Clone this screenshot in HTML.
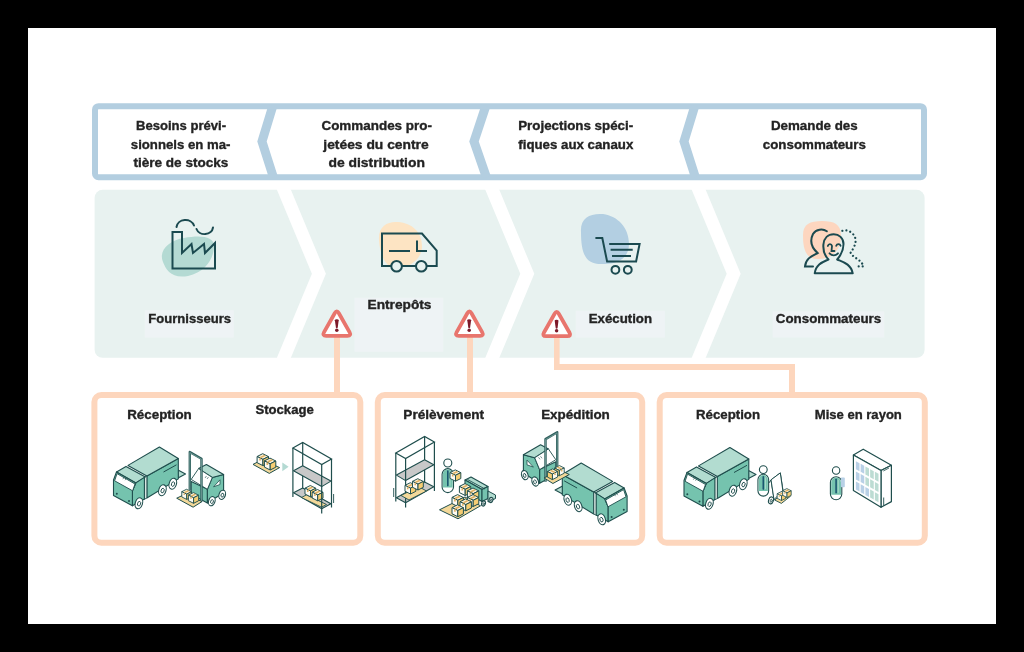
<!DOCTYPE html>
<html><head><meta charset="utf-8">
<style>
html,body{margin:0;padding:0;background:#000;width:1024px;height:652px;overflow:hidden}
svg{display:block;will-change:transform}
text{font-family:"Liberation Sans",sans-serif;font-weight:bold;font-size:13px;fill:#232323;stroke:#232323;stroke-width:0.35px}
</style></head>
<body>
<svg width="1024" height="652" viewBox="0 0 1024 652">
<rect x="0" y="0" width="1024" height="652" fill="#000"/>
<rect x="28" y="28" width="968" height="596" fill="#fff"/>

<!-- TOP BAND -->
<g fill="none" stroke="#b3cee0">
<rect x="95" y="106.2" width="829" height="71" rx="3.5" stroke-width="6"/>
<polyline points="272.8,106 262,141.5 273.3,177" stroke-width="9"/>
<polyline points="485.8,106 474,141.5 486.3,177" stroke-width="9"/>
<polyline points="694.8,106 684,141.5 695.3,177" stroke-width="9"/>
</g>
<g text-anchor="middle">
<text x="181" y="130.3" textLength="90" lengthAdjust="spacingAndGlyphs">Besoins prévi-</text>
<text x="180.6" y="148.6" textLength="99.6" lengthAdjust="spacingAndGlyphs">sionnels en ma-</text>
<text x="180.9" y="166.5" textLength="95" lengthAdjust="spacingAndGlyphs">tière de stocks</text>
<text x="376.7" y="130.3" textLength="110.5" lengthAdjust="spacingAndGlyphs">Commandes pro-</text>
<text x="376" y="148.6" textLength="105.4" lengthAdjust="spacingAndGlyphs">jetées du centre</text>
<text x="376.7" y="166.5" textLength="96.5" lengthAdjust="spacingAndGlyphs">de distribution</text>
<text x="575.7" y="130.3" textLength="115" lengthAdjust="spacingAndGlyphs">Projections spéci-</text>
<text x="575.8" y="148.6" textLength="115" lengthAdjust="spacingAndGlyphs">fiques aux canaux</text>
<text x="814.3" y="130.3" textLength="86.8" lengthAdjust="spacingAndGlyphs">Demande des</text>
<text x="814.3" y="148.6" textLength="103" lengthAdjust="spacingAndGlyphs">consommateurs</text>
</g>

<!-- MIDDLE BAND -->
<rect x="94.6" y="189.8" width="830" height="168" rx="8" fill="#e8f2f0"/>
<g fill="#fff">
<polygon points="276.17,188 290.17,188 325.90,273.8 290.17,359.6 276.17,359.6 311.90,273.8"/>
<polygon points="484.57,188 498.57,188 534.30,273.8 498.57,359.6 484.57,359.6 520.30,273.8"/>
<polygon points="690.97,188 704.97,188 740.70,273.8 704.97,359.6 690.97,359.6 726.70,273.8"/>
</g>
<g fill="#eef3f5">
<rect x="144.7" y="310.2" width="89.1" height="27.4"/>
<rect x="354.5" y="297.7" width="88.8" height="54.1"/>
<rect x="575.7" y="310.7" width="89.2" height="26.9"/>
<rect x="772.6" y="311.4" width="111.7" height="26.1"/>
</g>
<g text-anchor="middle">
<text x="189.7" y="322.6" textLength="82.7" lengthAdjust="spacingAndGlyphs">Fournisseurs</text>
<text x="399.5" y="309.3" textLength="63.9" lengthAdjust="spacingAndGlyphs">Entrepôts</text>
<text x="620.4" y="322.8" textLength="63.2" lengthAdjust="spacingAndGlyphs">Exécution</text>
<text x="828.5" y="322.9" textLength="105.4" lengthAdjust="spacingAndGlyphs">Consommateurs</text>
</g>

<!-- ICONS -->
<g id="icons">
<!-- factory -->
<path d="M163,262 C158,250 170,240 184,238 C200,235 214,236 214,246 C214,258 206,272 188,276 C172,279 166,270 163,262 Z" fill="#b4dad3"/>
<!-- truck blob -->
<path d="M379,240 C378,226 388,221 398,222 C412,223 422,232 422,246 C422,258 412,266 400,268 C386,270 380,256 379,240 Z" fill="#fde4c3"/>
<!-- cart blob -->
<path d="M581,232 C580,218 590,213 603,214 C618,216 629,228 629,244 C629,258 618,264 604,264 C588,265 581,258 581,232 Z" fill="#b3cfe2"/>
<!-- consumer blob -->
<path d="M803,235 C803,224 810,221 822,221 C834,221 841,224 841,236 C841,250 832,259 818,259 C806,259 803,250 803,235 Z" fill="#fdd6bf"/>
<g fill="none" stroke="#1b4a50" stroke-width="2" stroke-linejoin="miter" stroke-linecap="butt">
<path d="M172.5,268.5 V232 H182 V253 L191.5,244 L193,253 L204,244 L205,253 L215,243 V268.5 Z"/>
<path d="M176.5,227 A9,8 0 0 1 194,225.5" stroke-linecap="round"/>
<path d="M196.5,229 A8.5,7.5 0 0 0 213,227.5" stroke-linecap="round"/>
<path d="M382,266 V233.5 H422 L436.7,250.6 V266 Z"/>
<path d="M389,251 H410 M417,240.6 V251 H427"/>
<circle cx="396.6" cy="266.3" r="5.3" fill="#e8f2f0"/>
<circle cx="421.3" cy="266.3" r="5.3" fill="#e8f2f0"/>
<path d="M595.4,238 H602.3 L607.1,261.5 H636.1 L639.6,243.9 H609.2 M610.6,249.7 H632.7 M612,256 H631"/>
<circle cx="615.4" cy="269.8" r="3.9"/>
<circle cx="627.8" cy="269.8" r="3.9"/>
<path d="M826.8,231.3 C823,228.5 816,229 813,234 C810,240 811,247 817.6,253 C812,256 806,258 805,266.4 H813" stroke-linecap="round"/>
<path d="M828.5,259.5 C824,255 823,250 823.4,244.5 C824,238 828,234.2 833.7,234.2 C839,234.2 843.5,238 843.5,244 C843.5,250 841,255 837.2,259.5 C843,262 851,264 852.7,273.3 H814.7 C816,264 823,262 828.5,259.5 Z" fill="none" stroke-linejoin="round"/>
<path d="M827.8,246 C828.5,243.5 831.5,243.5 832,246 L831.5,251 H834.5" stroke-width="1.8" stroke-linecap="round"/>
<path d="M836.2,245.8 C837,243.5 840,243.5 840.6,245.8" stroke-width="1.8" stroke-linecap="round"/>
<path d="M829.5,253.3 C832,256 835.5,256 838,253.3" stroke-width="1.8" stroke-linecap="round"/>
<path d="M842.4,230.8 C848,229 854,233 855.4,238.5 C856.5,244 853,249 850.6,252.8 C853,258 861,259 863.6,266.4 H855" stroke-width="2.2" stroke-dasharray="0.01 4" stroke-linecap="round"/>
</g>
</g>

<!-- CONNECTORS -->
<g fill="#fdd6bd">
<rect x="334" y="336" width="6" height="58"/>
<rect x="467" y="336" width="6" height="58"/>
<rect x="554" y="336" width="5.6" height="34"/>
<rect x="554" y="364" width="241" height="6"/>
<rect x="789" y="364" width="6" height="30"/>
</g>
<g fill="#fff" stroke="#e8756d" stroke-width="3.8" stroke-linejoin="round">
<path d="M334.73,313.26 Q336.80,309.60 338.87,313.26 L349.53,332.14 Q351.60,335.80 347.40,335.80 L326.20,335.80 Q322.00,335.80 324.07,332.14 Z"/>
<path d="M467.33,313.26 Q469.40,309.60 471.47,313.26 L482.13,332.14 Q484.20,335.80 480.00,335.80 L458.80,335.80 Q454.60,335.80 456.67,332.14 Z"/>
<path d="M554.62,313.75 Q556.70,310.10 558.78,313.75 L569.42,332.45 Q571.50,336.10 567.30,336.10 L546.10,336.10 Q541.90,336.10 543.98,332.45 Z"/>
</g>
<g fill="#7d1a2a">
<path d="M334.90,320.20 Q334.90,319.20 336.80,319.20 Q338.70,319.20 338.70,320.20 L337.70,327.80 Q336.80,328.60 335.90,327.80 Z"/><circle cx="336.80" cy="330.30" r="1.75"/><path d="M467.30,320.20 Q467.30,319.20 469.20,319.20 Q471.10,319.20 471.10,320.20 L470.10,327.80 Q469.20,328.60 468.30,327.80 Z"/><circle cx="469.20" cy="330.30" r="1.75"/><path d="M554.70,320.70 Q554.70,319.70 556.60,319.70 Q558.50,319.70 558.50,320.70 L557.50,328.30 Q556.60,329.10 555.70,328.30 Z"/><circle cx="556.60" cy="330.80" r="1.75"/>
</g>

<!-- BOTTOM BOXES -->
<g fill="none" stroke="#fdd6bd" stroke-width="6">
<rect x="94.4" y="395" width="265.9" height="147.8" rx="7"/>
<rect x="377.8" y="395" width="264.4" height="147.8" rx="7"/>
<rect x="659.7" y="395" width="265.1" height="147.8" rx="7"/>
</g>
<g text-anchor="middle">
<text x="159.5" y="418.5" textLength="64.6" lengthAdjust="spacingAndGlyphs">Réception</text>
<text x="284.6" y="414.4" textLength="58.4" lengthAdjust="spacingAndGlyphs">Stockage</text>
<text x="443.7" y="418.8" textLength="80.7" lengthAdjust="spacingAndGlyphs">Prélèvement</text>
<text x="575.5" y="418.8" textLength="68.7" lengthAdjust="spacingAndGlyphs">Expédition</text>
<text x="728" y="418.8" textLength="64" lengthAdjust="spacingAndGlyphs">Réception</text>
<text x="858.3" y="418.8" textLength="87.1" lengthAdjust="spacingAndGlyphs">Mise en rayon</text>
</g>

<!-- ILLUSTRATIONS -->
<g id="illus">
<defs><g id="truck1"><polygon points="178.00,470.00 185.50,474.00 178.00,478.00" fill="#b2dcd0" stroke="#1f4e4d" stroke-width="1.1" stroke-linejoin="round" /><polygon points="146.90,476.00 178.30,458.50 178.30,478.90 146.90,498.00" fill="#75c3ae" stroke="#1f4e4d" stroke-width="1.1" stroke-linejoin="round" /><polygon points="128.00,465.40 159.40,447.00 178.30,458.50 146.90,476.00" fill="#b2dcd0" stroke="#1f4e4d" stroke-width="1.1" stroke-linejoin="round" /><path d="M163.5,472 L176.5,464.8" stroke="#1f4e4d" stroke-width="1"/><polygon points="143.80,477.50 146.90,476.00 146.90,498.00 143.80,499.50" fill="#d9e6e2" stroke="#1f4e4d" stroke-width="0.9" stroke-linejoin="round" /><polygon points="116.50,471.90 126.00,466.40 145.40,476.90 135.90,482.90" fill="#b2dcd0" stroke="#1f4e4d" stroke-width="1.1" stroke-linejoin="round" /><polygon points="135.90,482.90 144.40,477.40 144.40,498.90 132.40,505.80 132.40,490.90" fill="#75c3ae" stroke="#1f4e4d" stroke-width="1.1" stroke-linejoin="round" /><polygon points="116.50,471.90 135.90,482.90 132.40,490.90 132.40,505.80 113.50,495.40 113.50,480.00" fill="#75c3ae" stroke="#1f4e4d" stroke-width="1.1" stroke-linejoin="round" /><polygon points="117.00,473.60 135.00,484.00 132.60,490.80 114.60,480.80" fill="#fff" stroke="#1f4e4d" stroke-width="0.9" stroke-linejoin="round" /><circle cx="116.8" cy="493.7" r="1" fill="#1f4e4d"/><circle cx="129" cy="500.9" r="1" fill="#1f4e4d"/><path d="M122.8,479.2 l1.6,-2.2 M125,480.2 l1.6,-2.2" stroke="#1f4e4d" stroke-width="0.6"/><ellipse cx="138.9" cy="503.3" rx="3.6" ry="5.6" fill="#fff" stroke="#1f4e4d" stroke-width="1.1" transform="rotate(18 138.9 503.3)"/><ellipse cx="139.20000000000002" cy="503.6" rx="1.51" ry="2.35" fill="none" stroke="#1f4e4d" stroke-width="0.9" transform="rotate(18 138.9 503.3)"/><ellipse cx="162.4" cy="490.2" rx="3.6" ry="5.6" fill="#fff" stroke="#1f4e4d" stroke-width="1.1" transform="rotate(18 162.4 490.2)"/><ellipse cx="162.70000000000002" cy="490.5" rx="1.51" ry="2.35" fill="none" stroke="#1f4e4d" stroke-width="0.9" transform="rotate(18 162.4 490.2)"/><ellipse cx="172.8" cy="483.7" rx="3.6" ry="5.6" fill="#fff" stroke="#1f4e4d" stroke-width="1.1" transform="rotate(18 172.8 483.7)"/><ellipse cx="173.10000000000002" cy="484.0" rx="1.51" ry="2.35" fill="none" stroke="#1f4e4d" stroke-width="0.9" transform="rotate(18 172.8 483.7)"/></g><g id="fork1"><polygon points="191.20,481.40 207.40,489.30 207.40,503.00 191.20,494.20" fill="#75c3ae" stroke="#1f4e4d" stroke-width="1.1" stroke-linejoin="round" /><polygon points="207.40,489.30 212.30,477.50 223.60,474.50 223.60,492.70 207.40,503.00" fill="#75c3ae" stroke="#1f4e4d" stroke-width="1.1" stroke-linejoin="round" /><polygon points="198.60,468.60 206.40,464.50 223.60,474.50 212.30,477.50" fill="#b2dcd0" stroke="#1f4e4d" stroke-width="1.1" stroke-linejoin="round" /><polygon points="191.20,479.40 198.60,468.60 212.30,477.50 207.40,489.30" fill="#fff" stroke="#1f4e4d" stroke-width="0.9" stroke-linejoin="round" /><polygon points="213.60,486.80 220.00,479.80 220.00,484.50" fill="#fff" stroke="#1f4e4d" stroke-width="0.8" stroke-linejoin="round" /><path d="M205,478 l1.5,-2 M207,479 l1.5,-2" stroke="#1f4e4d" stroke-width="0.6"/><path d="M189.8,490.5 V452 L201.5,458.8 V501.5" fill="none" stroke="#2f5f5d" stroke-width="2.4" stroke-linejoin="round"/><path d="M189.8,490.5 V452.5 L201.5,459.2 V501.5" fill="none" stroke="#7fa9a3" stroke-width="0.7"/><ellipse cx="211.8" cy="501.2" rx="3.2" ry="4.7" fill="#fff" stroke="#1f4e4d" stroke-width="1.1" transform="rotate(18 211.8 501.2)"/><ellipse cx="212.10000000000002" cy="501.5" rx="1.34" ry="1.97" fill="none" stroke="#1f4e4d" stroke-width="0.9" transform="rotate(18 211.8 501.2)"/><ellipse cx="222.2" cy="494.8" rx="3.2" ry="4.7" fill="#fff" stroke="#1f4e4d" stroke-width="1.1" transform="rotate(18 222.2 494.8)"/><ellipse cx="222.5" cy="495.1" rx="1.34" ry="1.97" fill="none" stroke="#1f4e4d" stroke-width="0.9" transform="rotate(18 222.2 494.8)"/></g><g id="forkpal1"><polygon points="176.70,498.20 185.50,494.00 202.00,501.60 193.10,507.20" fill="#f3d899" stroke="#1f4e4d" stroke-width="1.0" stroke-linejoin="round" /><polygon points="181.77,491.67 186.70,494.13 191.46,491.75 186.53,489.29" fill="#fbf0d8" stroke="#1f4e4d" stroke-width="0.8800000000000001" stroke-linejoin="round" /><polygon points="181.77,496.94 186.70,499.40 186.70,494.13 181.77,491.67" fill="#fdfaf2" stroke="#1f4e4d" stroke-width="0.8800000000000001" stroke-linejoin="round" /><polygon points="186.70,499.40 191.46,497.02 191.46,491.75 186.70,494.13" fill="#f6cd73" stroke="#1f4e4d" stroke-width="0.8800000000000001" stroke-linejoin="round" /><path d="M184.47,492.60 L188.52,490.72 M184.23,493.40 V495.11" stroke="#dfb060" stroke-width="1.36" fill="none"/><polygon points="188.38,495.11 193.60,497.72 198.64,495.20 193.42,492.59" fill="#fbf0d8" stroke="#1f4e4d" stroke-width="0.9200000000000002" stroke-linejoin="round" /><polygon points="188.38,500.69 193.60,503.30 193.60,497.72 188.38,495.11" fill="#fdfaf2" stroke="#1f4e4d" stroke-width="0.9200000000000002" stroke-linejoin="round" /><polygon points="193.60,503.30 198.64,500.78 198.64,495.20 193.60,497.72" fill="#f6cd73" stroke="#1f4e4d" stroke-width="0.9200000000000002" stroke-linejoin="round" /><path d="M191.24,496.12 L195.53,494.10 M190.99,496.92 V498.75" stroke="#dfb060" stroke-width="1.44" fill="none"/></g></defs>
<use href="#truck1"/>
<use href="#fork1"/>
<use href="#forkpal1"/>
<g fill="none" stroke="#1f4e4d" stroke-width="1.2"><path d="M302.7,442.5 V492.8 M331.5,459 V507.5"/></g><polygon points="293.50,470.70 302.70,465.80 330.90,481.10 321.70,486.60" fill="#c8c8c8" stroke="#1f4e4d" stroke-width="1.1" stroke-linejoin="round" /><polygon points="293.50,492.80 302.70,487.90 330.90,503.80 321.70,508.70" fill="#c8c8c8" stroke="#1f4e4d" stroke-width="1.1" stroke-linejoin="round" /><polygon points="301.50,497.50 306.50,494.80 326.50,504.50 321.50,507.20" fill="#f3d899" stroke="#1f4e4d" stroke-width="0.9" stroke-linejoin="round" /><polygon points="304.99,488.16 310.50,490.91 315.82,488.25 310.31,485.50" fill="#fbf0d8" stroke="#1f4e4d" stroke-width="0.96" stroke-linejoin="round" /><polygon points="304.99,494.05 310.50,496.80 310.50,490.91 304.99,488.16" fill="#fdfaf2" stroke="#1f4e4d" stroke-width="0.96" stroke-linejoin="round" /><polygon points="310.50,496.80 315.82,494.14 315.82,488.25 310.50,490.91" fill="#f6cd73" stroke="#1f4e4d" stroke-width="0.96" stroke-linejoin="round" /><path d="M308.01,489.23 L312.53,487.07 M307.75,490.03 V492.00" stroke="#dfb060" stroke-width="1.52" fill="none"/><polygon points="312.19,492.16 317.70,494.91 323.02,492.25 317.51,489.50" fill="#fbf0d8" stroke="#1f4e4d" stroke-width="0.96" stroke-linejoin="round" /><polygon points="312.19,498.05 317.70,500.80 317.70,494.91 312.19,492.16" fill="#fdfaf2" stroke="#1f4e4d" stroke-width="0.96" stroke-linejoin="round" /><polygon points="317.70,500.80 323.02,498.14 323.02,492.25 317.70,494.91" fill="#f6cd73" stroke="#1f4e4d" stroke-width="0.96" stroke-linejoin="round" /><path d="M315.21,493.23 L319.73,491.07 M314.94,494.03 V496.00" stroke="#dfb060" stroke-width="1.52" fill="none"/><g fill="none" stroke="#1f4e4d" stroke-width="1.2"><path d="M292.9,448 L302.7,442.5 L331.5,459 L321.7,464.5 Z"/><path d="M292.9,448 V497.1 M321.7,464.5 V513.6"/><path d="M333.6,494 V503" stroke-width="0.9"/></g>
<polygon points="253.00,464.40 262.00,459.80 279.60,467.60 269.30,473.40" fill="#f3d899" stroke="#1f4e4d" stroke-width="1.0" stroke-linejoin="round" /><polygon points="257.10,456.50 262.90,459.40 268.50,456.60 262.70,453.70" fill="#fbf0d8" stroke="#1f4e4d" stroke-width="1.0" stroke-linejoin="round" /><polygon points="257.10,462.70 262.90,465.60 262.90,459.40 257.10,456.50" fill="#fdfaf2" stroke="#1f4e4d" stroke-width="1.0" stroke-linejoin="round" /><polygon points="262.90,465.60 268.50,462.80 268.50,456.60 262.90,459.40" fill="#f6cd73" stroke="#1f4e4d" stroke-width="1.0" stroke-linejoin="round" /><path d="M260.28,457.65 L265.04,455.35 M260.00,458.45 V460.55" stroke="#dfb060" stroke-width="1.60" fill="none"/><polygon points="264.40,460.90 270.20,463.80 275.80,461.00 270.00,458.10" fill="#fbf0d8" stroke="#1f4e4d" stroke-width="1.0" stroke-linejoin="round" /><polygon points="264.40,467.10 270.20,470.00 270.20,463.80 264.40,460.90" fill="#fdfaf2" stroke="#1f4e4d" stroke-width="1.0" stroke-linejoin="round" /><polygon points="270.20,470.00 275.80,467.20 275.80,461.00 270.20,463.80" fill="#f6cd73" stroke="#1f4e4d" stroke-width="1.0" stroke-linejoin="round" /><path d="M267.58,462.05 L272.34,459.75 M267.30,462.85 V464.95" stroke="#dfb060" stroke-width="1.60" fill="none"/><polygon points="282.3,462.5 288.6,466.7 282.3,471.2" fill="#b4dad3"/>
<use href="#truck1" transform="matrix(-1,0,0,1,740.6,16)"/>
<use href="#fork1" transform="matrix(-1,0,0,1,747,-19.7)"/>
<use href="#forkpal1" transform="matrix(-1,0,0,1,746,-23.7)"/>
<use href="#truck1" transform="translate(570.5,0.5)"/>
<g transform="matrix(-1,0,0,1,727.3,-6)"><g fill="none" stroke="#1f4e4d" stroke-width="1.2"><path d="M302.7,442.5 V492.8 M331.5,459 V507.5"/></g><polygon points="293.50,470.70 302.70,465.80 330.90,481.10 321.70,486.60" fill="#c8c8c8" stroke="#1f4e4d" stroke-width="1.1" stroke-linejoin="round" /><polygon points="293.50,492.80 302.70,487.90 330.90,503.80 321.70,508.70" fill="#c8c8c8" stroke="#1f4e4d" stroke-width="1.1" stroke-linejoin="round" /><g fill="none" stroke="#1f4e4d" stroke-width="1.2"><path d="M292.9,448 L302.7,442.5 L331.5,459 L321.7,464.5 Z"/><path d="M292.9,448 V497.1 M321.7,464.5 V513.6"/><path d="M333.6,494 V503" stroke-width="0.9"/></g></g>
<polygon points="401.00,495.50 418.50,486.50 426.50,491.00 409.00,500.00" fill="#f3d899" stroke="#1f4e4d" stroke-width="0.9" stroke-linejoin="round" /><polygon points="404.99,485.36 410.50,488.11 415.82,485.45 410.31,482.69" fill="#fbf0d8" stroke="#1f4e4d" stroke-width="0.96" stroke-linejoin="round" /><polygon points="404.99,491.25 410.50,494.00 410.50,488.11 404.99,485.36" fill="#fdfaf2" stroke="#1f4e4d" stroke-width="0.96" stroke-linejoin="round" /><polygon points="410.50,494.00 415.82,491.34 415.82,485.45 410.50,488.11" fill="#f6cd73" stroke="#1f4e4d" stroke-width="0.96" stroke-linejoin="round" /><path d="M408.01,486.43 L412.53,484.27 M407.75,487.23 V489.20" stroke="#dfb060" stroke-width="1.52" fill="none"/><polygon points="412.49,481.36 418.00,484.11 423.32,481.45 417.81,478.69" fill="#fbf0d8" stroke="#1f4e4d" stroke-width="0.96" stroke-linejoin="round" /><polygon points="412.49,487.25 418.00,490.00 418.00,484.11 412.49,481.36" fill="#fdfaf2" stroke="#1f4e4d" stroke-width="0.96" stroke-linejoin="round" /><polygon points="418.00,490.00 423.32,487.34 423.32,481.45 418.00,484.11" fill="#f6cd73" stroke="#1f4e4d" stroke-width="0.96" stroke-linejoin="round" /><path d="M415.51,482.43 L420.03,480.27 M415.25,483.23 V485.20" stroke="#dfb060" stroke-width="1.52" fill="none"/>
<circle cx="447.8" cy="463" r="4.0" fill="#fff" stroke="#1f4e4d" stroke-width="1.1"/><rect x="442.1" y="468.6" width="11.4" height="24" rx="5.7" fill="#fff" stroke="#1f4e4d" stroke-width="1.1"/><path d="M442.90000000000003,474.3 A4.9,4.9 0 0 1 452.7,474.3 V487.6 H442.90000000000003 Z" fill="#75c3ae"/><path d="M447.8,471.1 V485.6" stroke="#1b5670" stroke-width="1.6" stroke-linecap="round"/><path d="M450.0,471.6 V485.6" stroke="#a8d8c9" stroke-width="1" />
<polygon points="449.99,472.56 455.50,475.31 460.82,472.65 455.31,469.89" fill="#fbf0d8" stroke="#1f4e4d" stroke-width="0.96" stroke-linejoin="round" /><polygon points="449.99,478.44 455.50,481.20 455.50,475.31 449.99,472.56" fill="#fdfaf2" stroke="#1f4e4d" stroke-width="0.96" stroke-linejoin="round" /><polygon points="455.50,481.20 460.82,478.54 460.82,472.65 455.50,475.31" fill="#f6cd73" stroke="#1f4e4d" stroke-width="0.96" stroke-linejoin="round" /><path d="M453.01,473.63 L457.53,471.47 M452.75,474.43 V476.40" stroke="#dfb060" stroke-width="1.52" fill="none"/>
<polygon points="439.50,509.80 465.00,497.00 480.50,505.80 458.00,518.80" fill="#f3d899" stroke="#1f4e4d" stroke-width="1.0" stroke-linejoin="round" /><polygon points="465.00,480.00 471.00,477.00 488.00,486.50 482.00,489.50" fill="#b2dcd0" stroke="#1f4e4d" stroke-width="1.1" stroke-linejoin="round" /><polygon points="465.00,480.00 482.00,489.50 482.00,501.50 465.00,492.00" fill="#75c3ae" stroke="#1f4e4d" stroke-width="1.1" stroke-linejoin="round" /><polygon points="482.00,489.50 488.00,486.50 488.00,498.50 482.00,501.50" fill="#75c3ae" stroke="#1f4e4d" stroke-width="1.1" stroke-linejoin="round" /><polygon points="488.00,491.00 495.50,495.00 495.50,498.50 488.00,502.00" fill="#b2dcd0" stroke="#1f4e4d" stroke-width="1.0" stroke-linejoin="round" /><path d="M467.5,479.5 L485,489" stroke="#1f4e4d" stroke-width="0.9"/><ellipse cx="483.5" cy="503.5" rx="1.9" ry="2.6" fill="#fff" stroke="#1f4e4d" stroke-width="1.1" transform="rotate(18 483.5 503.5)"/><ellipse cx="483.8" cy="503.8" rx="0.80" ry="1.09" fill="none" stroke="#1f4e4d" stroke-width="0.9" transform="rotate(18 483.5 503.5)"/><ellipse cx="491" cy="500" rx="1.9" ry="2.6" fill="#fff" stroke="#1f4e4d" stroke-width="1.1" transform="rotate(18 491 500)"/><ellipse cx="491.3" cy="500.3" rx="0.80" ry="1.09" fill="none" stroke="#1f4e4d" stroke-width="0.9" transform="rotate(18 491 500)"/><polygon points="459.40,486.40 465.20,489.30 470.80,486.50 465.00,483.60" fill="#fbf0d8" stroke="#1f4e4d" stroke-width="1.0" stroke-linejoin="round" /><polygon points="459.40,492.60 465.20,495.50 465.20,489.30 459.40,486.40" fill="#fdfaf2" stroke="#1f4e4d" stroke-width="1.0" stroke-linejoin="round" /><polygon points="465.20,495.50 470.80,492.70 470.80,486.50 465.20,489.30" fill="#f6cd73" stroke="#1f4e4d" stroke-width="1.0" stroke-linejoin="round" /><path d="M462.58,487.55 L467.34,485.25 M462.30,488.35 V490.45" stroke="#dfb060" stroke-width="1.60" fill="none"/><polygon points="467.40,490.80 473.20,493.70 478.80,490.90 473.00,488.00" fill="#fbf0d8" stroke="#1f4e4d" stroke-width="1.0" stroke-linejoin="round" /><polygon points="467.40,497.00 473.20,499.90 473.20,493.70 467.40,490.80" fill="#fdfaf2" stroke="#1f4e4d" stroke-width="1.0" stroke-linejoin="round" /><polygon points="473.20,499.90 478.80,497.10 478.80,490.90 473.20,493.70" fill="#f6cd73" stroke="#1f4e4d" stroke-width="1.0" stroke-linejoin="round" /><path d="M470.58,491.95 L475.34,489.65 M470.30,492.75 V494.85" stroke="#dfb060" stroke-width="1.60" fill="none"/><polygon points="467.40,497.40 473.20,500.30 478.80,497.50 473.00,494.60" fill="#fbf0d8" stroke="#1f4e4d" stroke-width="1.0" stroke-linejoin="round" /><polygon points="467.40,503.60 473.20,506.50 473.20,500.30 467.40,497.40" fill="#fdfaf2" stroke="#1f4e4d" stroke-width="1.0" stroke-linejoin="round" /><polygon points="473.20,506.50 478.80,503.70 478.80,497.50 473.20,500.30" fill="#f6cd73" stroke="#1f4e4d" stroke-width="1.0" stroke-linejoin="round" /><path d="M470.58,498.55 L475.34,496.25 M470.30,499.35 V501.45" stroke="#dfb060" stroke-width="1.60" fill="none"/><polygon points="452.00,497.40 457.80,500.30 463.40,497.50 457.60,494.60" fill="#fbf0d8" stroke="#1f4e4d" stroke-width="1.0" stroke-linejoin="round" /><polygon points="452.00,503.60 457.80,506.50 457.80,500.30 452.00,497.40" fill="#fdfaf2" stroke="#1f4e4d" stroke-width="1.0" stroke-linejoin="round" /><polygon points="457.80,506.50 463.40,503.70 463.40,497.50 457.80,500.30" fill="#f6cd73" stroke="#1f4e4d" stroke-width="1.0" stroke-linejoin="round" /><path d="M455.18,498.55 L459.94,496.25 M454.90,499.35 V501.45" stroke="#dfb060" stroke-width="1.60" fill="none"/><polygon points="460.00,501.70 465.80,504.60 471.40,501.80 465.60,498.90" fill="#fbf0d8" stroke="#1f4e4d" stroke-width="1.0" stroke-linejoin="round" /><polygon points="460.00,507.90 465.80,510.80 465.80,504.60 460.00,501.70" fill="#fdfaf2" stroke="#1f4e4d" stroke-width="1.0" stroke-linejoin="round" /><polygon points="465.80,510.80 471.40,508.00 471.40,501.80 465.80,504.60" fill="#f6cd73" stroke="#1f4e4d" stroke-width="1.0" stroke-linejoin="round" /><path d="M463.18,502.85 L467.94,500.55 M462.90,503.65 V505.75" stroke="#dfb060" stroke-width="1.60" fill="none"/><polygon points="452.00,507.60 457.80,510.50 463.40,507.70 457.60,504.80" fill="#fbf0d8" stroke="#1f4e4d" stroke-width="1.0" stroke-linejoin="round" /><polygon points="452.00,513.80 457.80,516.70 457.80,510.50 452.00,507.60" fill="#fdfaf2" stroke="#1f4e4d" stroke-width="1.0" stroke-linejoin="round" /><polygon points="457.80,516.70 463.40,513.90 463.40,507.70 457.80,510.50" fill="#f6cd73" stroke="#1f4e4d" stroke-width="1.0" stroke-linejoin="round" /><path d="M455.18,508.75 L459.94,506.45 M454.90,509.55 V511.65" stroke="#dfb060" stroke-width="1.60" fill="none"/>
<circle cx="763.3" cy="469.6" r="3.9000000000000004" fill="#fff" stroke="#1f4e4d" stroke-width="1.1"/><rect x="757.9499999999999" y="474.3" width="10.7" height="21.8" rx="5.35" fill="#fff" stroke="#1f4e4d" stroke-width="1.1"/><path d="M758.7499999999999,479.65000000000003 A4.55,4.55 0 0 1 767.85,479.65000000000003 V491.1 H758.7499999999999 Z" fill="#75c3ae"/><path d="M763.3,476.8 V489.1" stroke="#1b5670" stroke-width="1.6" stroke-linecap="round"/><path d="M765.5,477.3 V489.1" stroke="#a8d8c9" stroke-width="1" />
<path d="M768.8,483 L771,480 L780.3,472.9 L783,490.5 M771,480 L774.2,500" fill="none" stroke="#1f4e4d" stroke-width="1"/>
<polygon points="771.00,479.80 780.30,472.90 782.80,490.30 774.00,499.70" fill="#fff" stroke="#1f4e4d" stroke-width="1.0" stroke-linejoin="round" />
<polygon points="774.80,500.10 785.10,490.20 790.60,496.10 781.40,503.40" fill="#f3d899" stroke="#1f4e4d" stroke-width="0.9" stroke-linejoin="round" />
<polygon points="777.15,493.68 781.50,495.85 785.70,493.75 781.35,491.57" fill="#fbf0d8" stroke="#1f4e4d" stroke-width="0.8" stroke-linejoin="round" /><polygon points="777.15,498.32 781.50,500.50 781.50,495.85 777.15,493.68" fill="#fdfaf2" stroke="#1f4e4d" stroke-width="0.8" stroke-linejoin="round" /><polygon points="781.50,500.50 785.70,498.40 785.70,493.75 781.50,495.85" fill="#f6cd73" stroke="#1f4e4d" stroke-width="0.8" stroke-linejoin="round" /><path d="M779.54,494.46 L783.11,492.86 M779.33,495.26 V496.71" stroke="#dfb060" stroke-width="1.20" fill="none"/><polygon points="782.65,490.68 787.00,492.85 791.20,490.75 786.85,488.57" fill="#fbf0d8" stroke="#1f4e4d" stroke-width="0.8" stroke-linejoin="round" /><polygon points="782.65,495.32 787.00,497.50 787.00,492.85 782.65,490.68" fill="#fdfaf2" stroke="#1f4e4d" stroke-width="0.8" stroke-linejoin="round" /><polygon points="787.00,497.50 791.20,495.40 791.20,490.75 787.00,492.85" fill="#f6cd73" stroke="#1f4e4d" stroke-width="0.8" stroke-linejoin="round" /><path d="M785.04,491.46 L788.61,489.86 M784.83,492.26 V493.71" stroke="#dfb060" stroke-width="1.20" fill="none"/>
<ellipse cx="771" cy="500.4" rx="2.4" ry="3.5" fill="#fff" stroke="#1f4e4d" stroke-width="1.1" transform="rotate(18 771 500.4)"/><ellipse cx="771.3" cy="500.7" rx="1.01" ry="1.47" fill="none" stroke="#1f4e4d" stroke-width="0.9" transform="rotate(18 771 500.4)"/>
<circle cx="836.1" cy="470.5" r="3.7" fill="#fff" stroke="#1f4e4d" stroke-width="1.1"/><rect x="830.4" y="476.8" width="11.4" height="23" rx="5.7" fill="#fff" stroke="#1f4e4d" stroke-width="1.1"/><path d="M831.1999999999999,482.5 A4.9,4.9 0 0 1 841.0,482.5 V494.8 H831.1999999999999 Z" fill="#75c3ae"/><path d="M836.1,479.3 V492.8" stroke="#1b5670" stroke-width="1.6" stroke-linecap="round"/><path d="M838.3000000000001,479.8 V492.8" stroke="#a8d8c9" stroke-width="1" />
<rect x="840.9" y="477.6" width="3.9" height="9.6" rx="0.8" fill="#b8d0e6"/>
<polygon points="853.40,455.00 863.20,449.20 891.40,465.30 881.00,470.50" fill="#fff" stroke="#1f4e4d" stroke-width="1.2" stroke-linejoin="round" /><polygon points="881.00,470.50 891.40,465.30 891.40,501.60 881.00,507.30" fill="#fff" stroke="#1f4e4d" stroke-width="1.2" stroke-linejoin="round" /><polygon points="853.40,455.00 881.00,470.50 881.00,507.30 853.40,490.60" fill="#fff" stroke="#1f4e4d" stroke-width="1.2" stroke-linejoin="round" /><polygon points="855.90,461.20 859.50,463.20 859.50,471.20 855.90,469.20" fill="#b8d0e6"/><polygon points="860.65,463.85 864.25,465.85 864.25,473.85 860.65,471.85" fill="#b8d0e6"/><polygon points="865.40,466.50 869.00,468.50 869.00,476.50 865.40,474.50" fill="#bcdcd3"/><polygon points="870.15,469.15 873.75,471.15 873.75,479.15 870.15,477.15" fill="#bcdcd3"/><polygon points="874.90,471.80 878.50,473.80 878.50,481.80 874.90,479.80" fill="#bcdcd3"/><polygon points="855.90,471.40 859.50,473.40 859.50,481.40 855.90,479.40" fill="#b8d0e6"/><polygon points="860.65,474.05 864.25,476.05 864.25,484.05 860.65,482.05" fill="#b8d0e6"/><polygon points="865.40,476.70 869.00,478.70 869.00,486.70 865.40,484.70" fill="#bcdcd3"/><polygon points="870.15,479.35 873.75,481.35 873.75,489.35 870.15,487.35" fill="#bcdcd3"/><polygon points="874.90,482.00 878.50,484.00 878.50,492.00 874.90,490.00" fill="#bcdcd3"/><polygon points="855.90,481.60 859.50,483.60 859.50,491.60 855.90,489.60" fill="#b8d0e6"/><polygon points="860.65,484.25 864.25,486.25 864.25,494.25 860.65,492.25" fill="#b8d0e6"/><polygon points="865.40,486.90 869.00,488.90 869.00,496.90 865.40,494.90" fill="#b8d0e6"/><polygon points="870.15,489.55 873.75,491.55 873.75,499.55 870.15,497.55" fill="#bcdcd3"/><polygon points="874.90,492.20 878.50,494.20 878.50,502.20 874.90,500.20" fill="#bcdcd3"/><path d="M883.7,497.5 V505.5" stroke="#1f4e4d" stroke-width="0.9"/><path d="M883.3,471 L889,468" stroke="#1f4e4d" stroke-width="0.8"/>
</g>
</svg>
</body></html>
